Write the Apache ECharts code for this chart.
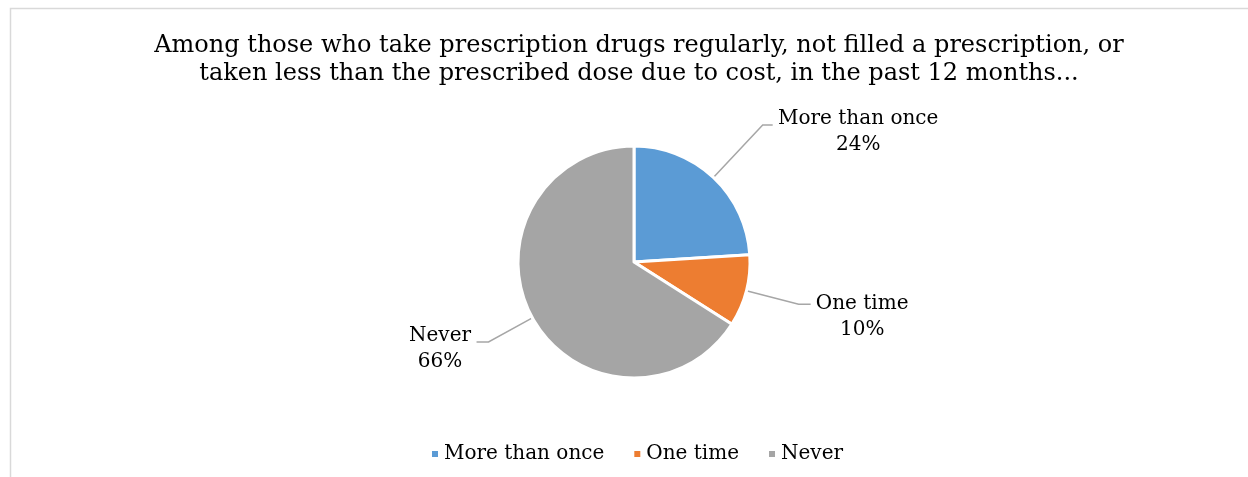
<!DOCTYPE html>
<html>
<head>
<meta charset="utf-8">
<script src="https://cdn.jsdelivr.net/npm/echarts@6/dist/echarts.min.js"></script>
<style>
  html, body { margin: 0; padding: 0; background: #fff; }
  #chart { width: 1248px; height: 477px; }
</style>
</head>
<body>
<div id="chart"></div>
<script>
// Survey answers and their shares (%)
const categories = ['More than once', 'One time', 'Never'];
const shares = [24, 10, 66];
const colors = ['#5B9BD5', '#ED7D31', '#A5A5A5'];
const titleLines = [
  'Among those who take prescription drugs regularly, not filled a prescription, or',
  'taken less than the prescribed dose due to cost, in the past 12 months...'
];

const FONT = '"DejaVu Serif", serif';
const LABEL_SIZE = 20;

// measure label names so each two-line label can be centred in its own box
const ctx = document.createElement('canvas').getContext('2d');
ctx.font = LABEL_SIZE + 'px ' + FONT;
const textWidth = s => Math.ceil(ctx.measureText(s).width);

// per-slice leader line lengths
const lineLen = [[72, 10], [54, 12], [50, 12]];

const data = categories.map((name, i) => ({
  name: name,
  value: shares[i],
  itemStyle: { color: colors[i] },
  labelLine: { length: lineLen[i][0], length2: lineLen[i][1] },
  label: {
    rich: {
      n: { width: textWidth(name), align: 'center', fontSize: LABEL_SIZE, fontFamily: FONT, color: '#000', lineHeight: 26 },
      v: { width: textWidth(name), align: 'center', fontSize: LABEL_SIZE, fontFamily: FONT, color: '#000', lineHeight: 26 }
    }
  }
}));

const chart = echarts.init(document.getElementById('chart'), null, { renderer: 'canvas' });
chart.setOption({
  animation: false,
  backgroundColor: '#fff',
  graphic: [{
    type: 'rect',
    shape: { x: 10.5, y: 8.5, width: 1300, height: 500 },
    style: { fill: 'none', stroke: '#d9d9d9', lineWidth: 1.5 },
    silent: true,
    z: -10
  }],
  title: {
    text: titleLines.join('\n'),
    left: 634,
    top: 27,
    textAlign: 'center',
    textStyle: { fontFamily: FONT, fontSize: 24, fontWeight: 'normal', color: '#000', lineHeight: 28 }
  },
  legend: {
    data: categories,
    left: 425,
    top: 439,
    itemWidth: 8,
    itemHeight: 8,
    itemGap: 28,
    icon: 'rect',
    textStyle: { fontFamily: FONT, fontSize: 20, color: '#000' }
  },
  series: [{
    type: 'pie',
    center: [634, 262],
    radius: 116,
    startAngle: 90,
    clockwise: true,
    avoidLabelOverlap: false,
    data: data,
    itemStyle: { borderColor: '#fff', borderWidth: 3 },
    label: {
      show: true,
      position: 'outside',
      formatter: p => '{n|' + p.name + '}\n{v|' + p.value + '%}',
      padding: [14, 0, 0, 0],
      distanceToLabelLine: 5
    },
    labelLine: {
      show: true,
      lineStyle: { color: '#a6a6a6', width: 1.5 }
    },
    labelLayout: p => (p.dataIndex === 1 ? { dy: 6 } : {}),
    emphasis: { disabled: true }
  }]
});
</script>
</body>
</html>
